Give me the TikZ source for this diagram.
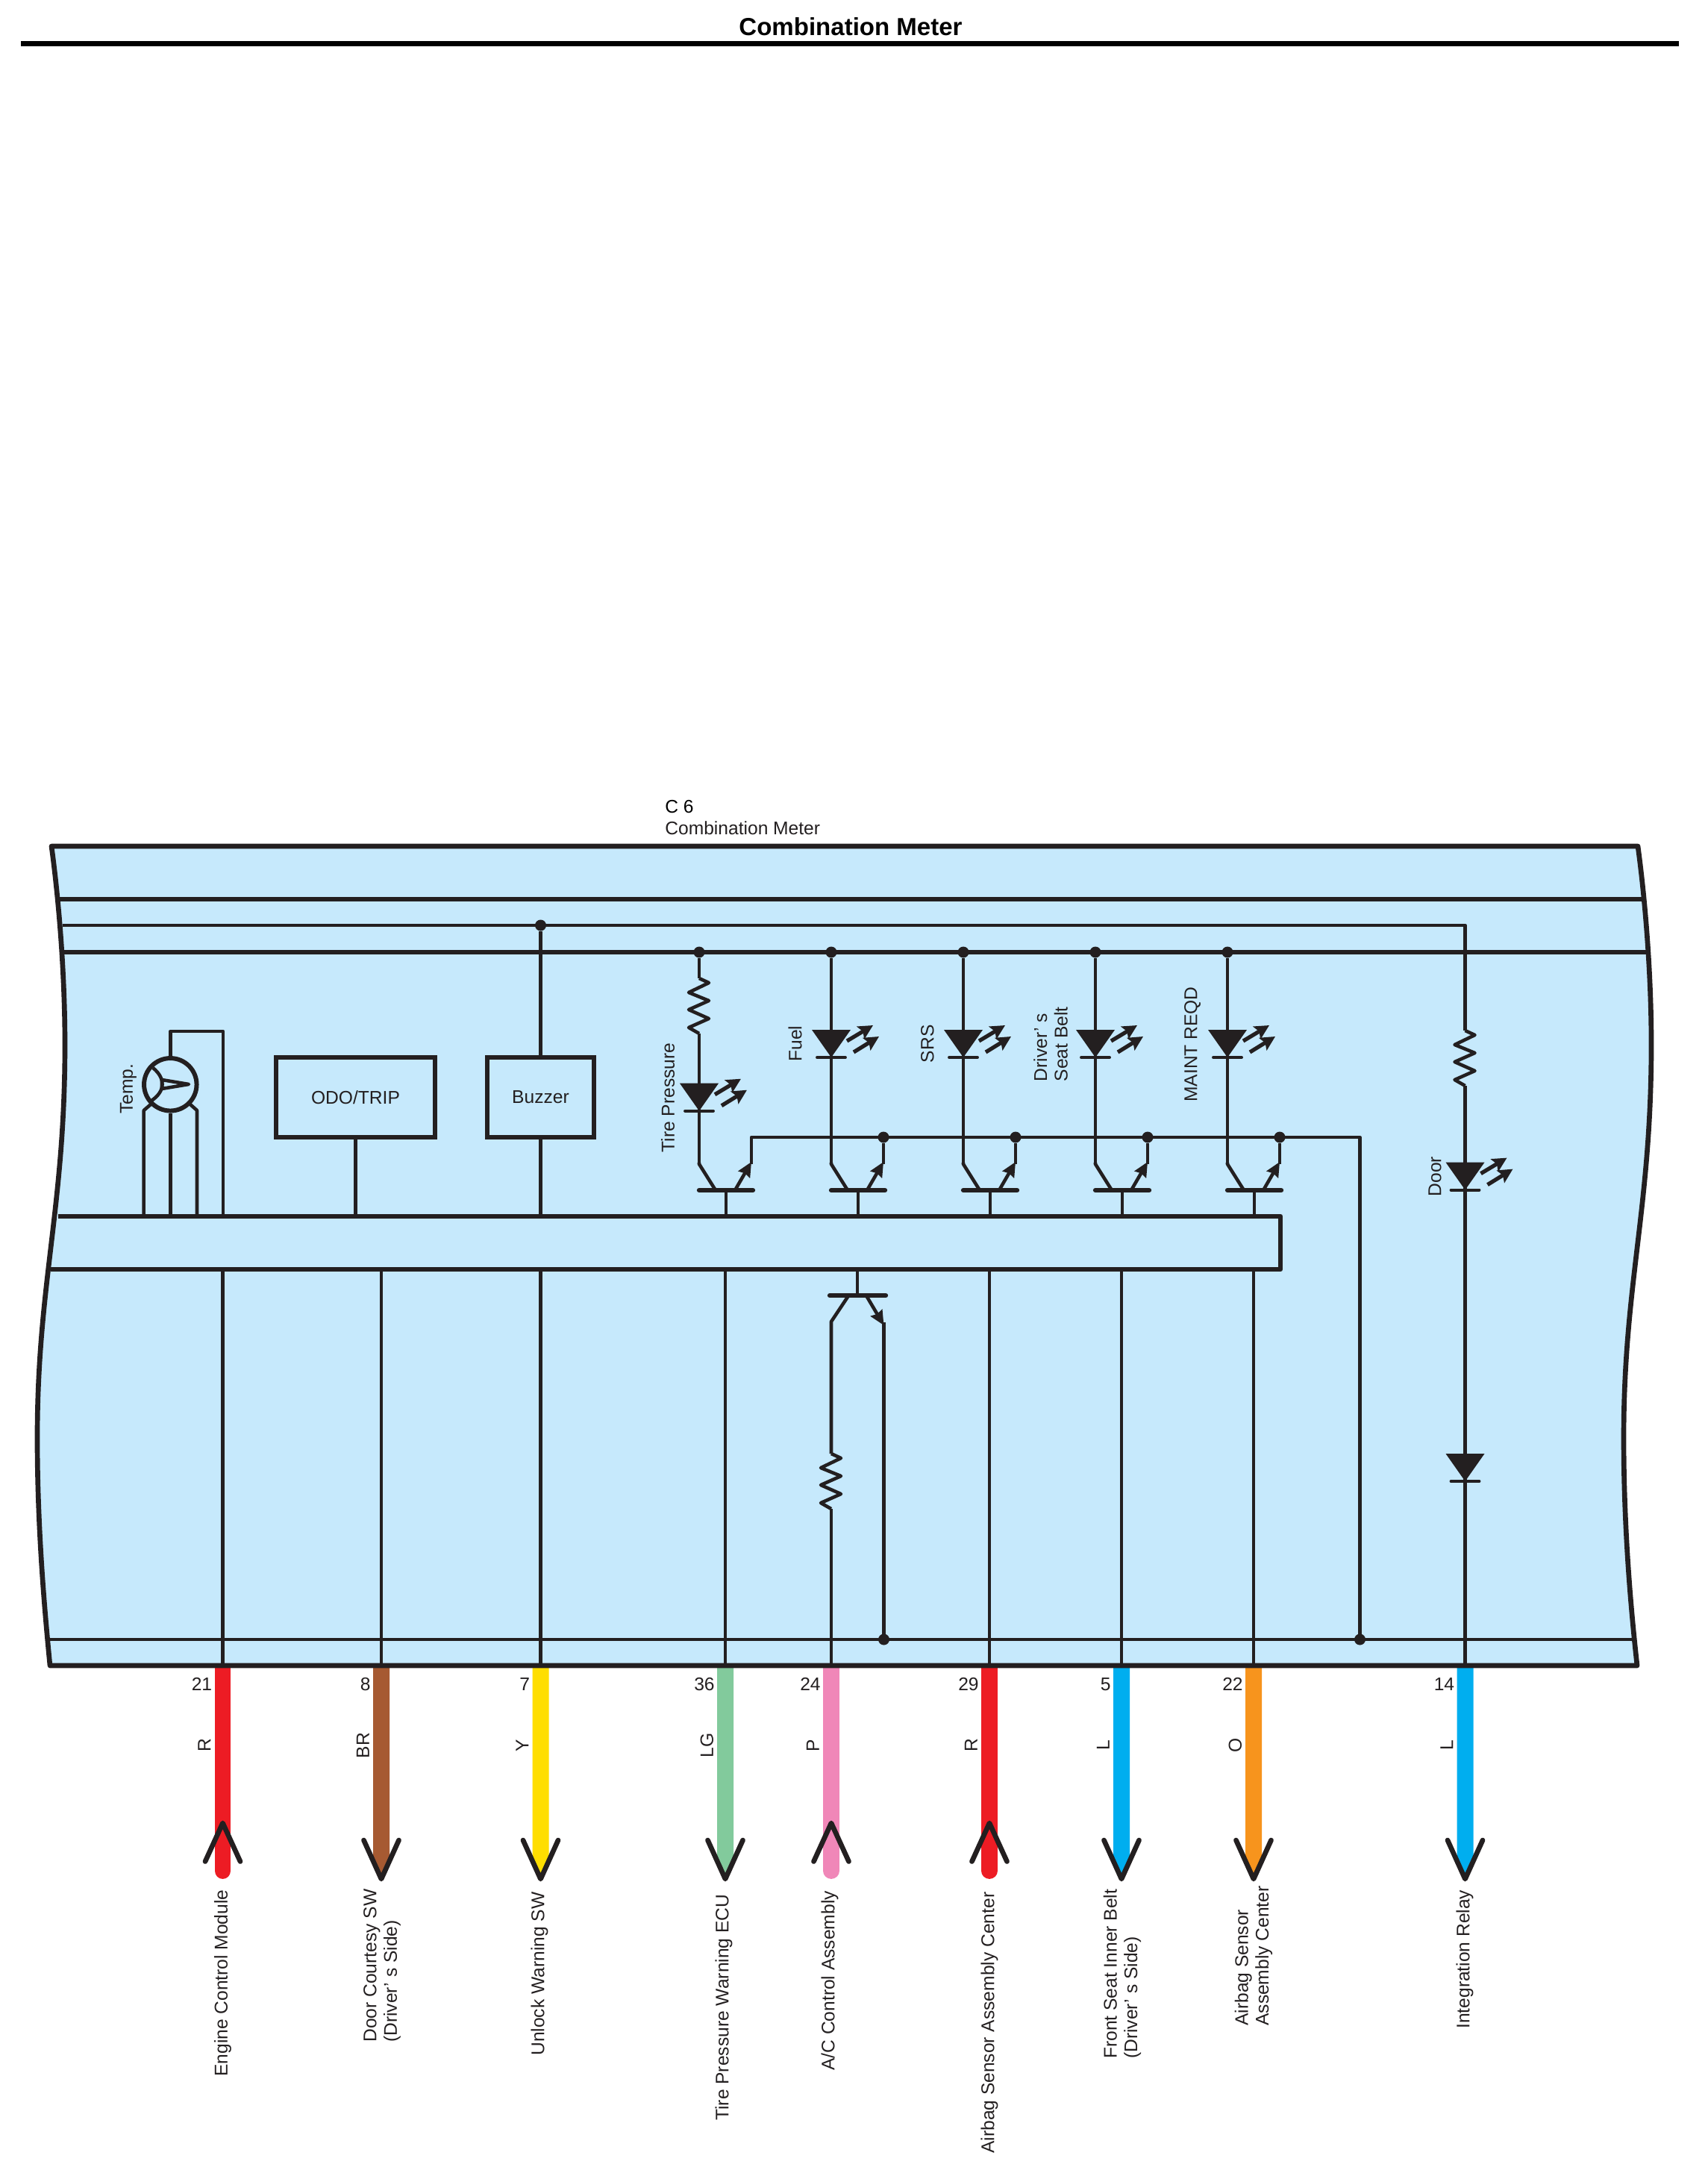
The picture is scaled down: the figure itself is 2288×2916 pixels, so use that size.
\documentclass[tikz,border=0pt]{standalone}
\usepackage{fontspec}
\setmainfont{Liberation Sans}
\usetikzlibrary{arrows.meta}
\definecolor{ink}{HTML}{231F20}
\definecolor{panel}{HTML}{C6E9FC}
\definecolor{wirered}{HTML}{ED1C24}
\definecolor{wirebrown}{HTML}{A65A32}
\definecolor{wireyellow}{HTML}{FFDE00}
\definecolor{wiregreen}{HTML}{82CA9C}
\definecolor{wirepink}{HTML}{F087B8}
\definecolor{wireblue}{HTML}{00AEEF}
\definecolor{wireorange}{HTML}{F7941D}
\tikzset{
  wire/.style={draw=ink, line width=2.6pt, line join=round},
  rail/.style={draw=ink, line width=3pt},
  heavy/.style={draw=ink, line width=3.8pt, line join=round},
  termbar/.style={draw=ink, line width=3.6pt, line cap=round},
  ledbar/.style={draw=ink, line width=2.2pt, line cap=round},
  ledray/.style={draw=ink, line width=3pt, -{Stealth[length=11pt,width=11pt,inset=2pt]}},
  emit/.style={draw=ink, line width=2.6pt, -{Stealth[length=11pt,width=10pt,inset=1pt]}},
  dot/.style={circle, fill=ink, inner sep=0pt, minimum size=0.3cm},
  lab/.style={inner sep=0pt, text=ink, font=\fontsize{14}{15.6}\selectfont},
  uplab/.style={lab, rotate=90, align=left},
  box/.style={draw=ink, line width=3.4pt, inner sep=0pt, minimum height=2.14cm, lab},
  tipline/.style={draw=ink, line width=3.8pt, line cap=round, line join=round},
  diode/.pic={
    \fill[ink] (-26,0) -- (26,0) -- (0,37) -- cycle;
    \draw[ledbar] (-19,37) -- (19,37);
  },
  led/.pic={
    \fill[ink] (-26,0) -- (26,0) -- (0,37) -- cycle;
    \draw[ledbar] (-19,37) -- (19,37);
    \draw[ledray] (21,15) -- (56,-6);
    \draw[ledray] (30,30) -- (64,9);
  },
  resist/.pic={
    \draw[wire] (0,0) -- (13,6) -- (-14,19) -- (13,30) -- (-14,42) -- (13,54) -- (-14,66) -- (0,74);
  }
}
\begin{document}
\begin{tikzpicture}[x=0.02cm, y=-0.02cm]
    \useasboundingbox (0,0) rectangle (2288,2916);

    \node [lab, font=\fontsize{18.8}{20}\selectfont\bfseries, text=black] (title) at (1140,35.5) {Combination Meter};
    \coordinate (ruleL) at (28,58.5);
    \coordinate (ruleR) at (2250,58.5);
    \draw [line width=4pt] (ruleL) -- (ruleR);
    \node [lab, anchor=west, text=black] (conn) at (891,1081) {C 6};
    \node [lab, anchor=west] (connname) at (891,1110) {Combination Meter};

    % coloured leads
    \foreach \n/\x/\col in {ecm/298.5/wirered, ac/1114/wirepink, sens/1326/wirered}{
        \draw [\col, line width=12.4pt, line cap=round] (\x,2225) -- (\x,2507);
        \draw [tipline] (\x-23.5,2494.5) -- (\x,2443) -- (\x+23.5,2494.5);
    }
    \foreach \n/\x/\col in {door/511/wirebrown, unlock/724.5/wireyellow, tpw/972/wiregreen, belt/1503/wireblue, bag/1680/wireorange, relay/1963.5/wireblue}{
        \fill [\col] (\x-11,2225) -- (\x-11,2493) -- (\x,2516) -- (\x+11,2493) -- (\x+11,2225) -- cycle;
        \draw [tipline] (\x-23.5,2466) -- (\x,2518) -- (\x+23.5,2466);
    }

    \draw [fill=panel, draw=ink, line width=3.8pt, line join=round]
        (69,1134) .. controls (78,1200) and (87,1300) .. (87,1400)
        .. controls (87,1620) and (50,1720) .. (50,1927)
        .. controls (50,2050) and (60,2160) .. (67,2232)
        -- (2194,2232)
        .. controls (2186,2160) and (2176,2050) .. (2176,1927)
        .. controls (2176,1720) and (2213,1620) .. (2213,1400)
        .. controls (2213,1300) and (2204,1200) .. (2195,1134) -- cycle;

    \draw [rail] (78,1205) -- (2202,1205);
    \draw [wire] (84,1240) -- (1963.5,1240) -- (1963.5,1381);
    \draw [rail] (86,1276) -- (2207,1276);
    \draw [wire] (62,2197) -- (2190,2197);

    % meter
    \node [circle, draw=ink, line width=3.4pt, inner sep=0pt, minimum size=1.41cm] (temp) at (228.3,1453.3) {};
    \draw [wire] (205,1431) .. controls (222,1445) and (222,1462) .. (203,1475);
    \draw [wire] (217,1447) -- (253,1453) -- (217,1459) -- cycle;
    \draw [wire] (temp.north) -- (228.3,1382) -- (299,1382) -- (299,1630);
    \draw [wire] (temp.south) -- (228.3,1630);
    \draw [wire] (202,1480) -- (192.7,1488) -- (192.7,1630);
    \draw [wire] (255,1480) -- (264,1488) -- (264,1630);
    \node [uplab] (templab) at (172,1459) {Temp.};

    \node [box, minimum width=4.26cm] (odo) at (476.5,1470.5) {ODO/TRIP};
    \node [box, minimum width=2.86cm] (buzzer) at (724.5,1470.5) {Buzzer};
    \node [dot] (pbuzz) at (724.5,1240) {};
    \draw [wire] (pbuzz) -- (buzzer);
    \draw [wire] (buzzer) -- (724.5,1630);
    \draw [wire] (odo) -- (476.5,1630);

    % lamps and drivers
    \draw [wire] (1007,1560) -- (1007,1524) -- (1822.5,1524) -- (1822.5,2197);
    \node [dot] (gnd2) at (1822.5,2197) {};
    \foreach \n/\c in {tire/937, fuel/1114, srs/1291, seat/1468, maint/1645}{
        \node [dot] (p\n) at (\c,1276) {};
        \draw [wire] (\c,1558) -- (\c,1560) -- (\c+22,1595);
        \draw [emit] (\c+48,1595) -- (\c+70,1557);
        \draw [termbar] (\c,1595) -- (\c+72,1595);
        \draw [wire] (\c+36,1595) -- (\c+36,1630);
    }
    \draw [wire] (ptire) -- (937,1311);
    \pic at (937,1311) {resist};
    \draw [wire] (937,1385) -- (937,1560);
    \pic at (937,1451.7) {led};
    \foreach \n/\c in {fuel/1114, srs/1291, seat/1468, maint/1645}{
        \draw [wire] (p\n) -- (\c,1560);
        \pic at (\c,1380) {led};
        \node [dot] (e\n) at (\c+70,1524) {};
        \draw [wire] (e\n) -- (\c+70,1560);
    }
    \node [uplab] (tirelab) at (895,1471) {Tire Pressure};
    \node [uplab, anchor=west] (fuellab) at (1065.6,1423) {Fuel};
    \node [uplab, anchor=west] (srslab) at (1243,1424.5) {SRS};
    \node [uplab, anchor=west] (seatlab) at (1408,1449.6) {Driver' s\\Seat Belt};
    \node [uplab, anchor=west] (maintlab) at (1598,1477) {MAINT REQD};

    % door lamp
    \pic at (1963.5,1381) {resist};
    \draw [wire] (1963.5,1455) -- (1963.5,2232);
    \pic at (1963.5,1557.6) {led};
    \pic at (1963.5,1948) {diode};
    \node [uplab] (doorlab) at (1923,1576.5) {Door};

    % lower transistor
    \draw [termbar] (1112,1736) -- (1187,1736);
    \draw [wire] (1149,1702) -- (1149,1736);
    \draw [wire] (1136,1738) -- (1114,1771) -- (1114,1948);
    \pic at (1114,1948) {resist};
    \draw [wire] (1114,2022) -- (1114,2232);
    \draw [emit] (1162,1738) -- (1184.5,1776);
    \draw [wire] (1184.5,1772) -- (1184.5,2197);
    \node [dot] (gnd1) at (1184.5,2197) {};

    % bus
    \draw [heavy] (78,1630) -- (1716,1630) -- (1716,1701) -- (68,1701);

    % pins
    \foreach \n/\x/\pin/\cc in {ecm/298.5/21/R, door/511/8/BR, unlock/724.5/7/Y, tpw/972/36/LG, ac/1114/24/P, sens/1326/29/R, belt/1503/5/L, bag/1680/22/O, relay/1963.5/14/L}{
        \coordinate (bus\n) at (\x,1701);
        \coordinate (pin\n) at (\x,2232);
        \node [lab, anchor=east] (num\n) at (\x-14,2257) {\pin};
        \node [uplab] (cc\n) at (\x-24.5,2339) {\cc};
    }
    \foreach \n in {ecm, door, unlock, tpw, sens, belt, bag}{
        \draw [wire] (bus\n) -- (pin\n);
    }

    \node [uplab, anchor=west] (ecmlab) at (298.5,2783) {Engine Control Module};
    \node [uplab, anchor=west] (doorsw) at (512,2737) {Door Courtesy SW\\(Driver' s Side)};
    \node [uplab, anchor=west] (unlocklab) at (723,2755) {Unlock Warning SW};
    \node [uplab, anchor=west] (tpwlab) at (970,2842) {Tire Pressure Warning ECU};
    \node [uplab, anchor=west] (aclab) at (1112,2775) {A/C Control Assembly};
    \node [uplab, anchor=west] (senslab) at (1326,2886) {Airbag Sensor Assembly Center};
    \node [uplab, anchor=west] (beltlab) at (1504,2759) {Front Seat Inner Belt\\(Driver' s Side)};
    \node [uplab, anchor=west] (baglab) at (1680,2715) {Airbag Sensor\\Assembly Center};
    \node [uplab, anchor=west] (relaylab) at (1963,2719) {Integration Relay};
\end{tikzpicture}
\end{document}
